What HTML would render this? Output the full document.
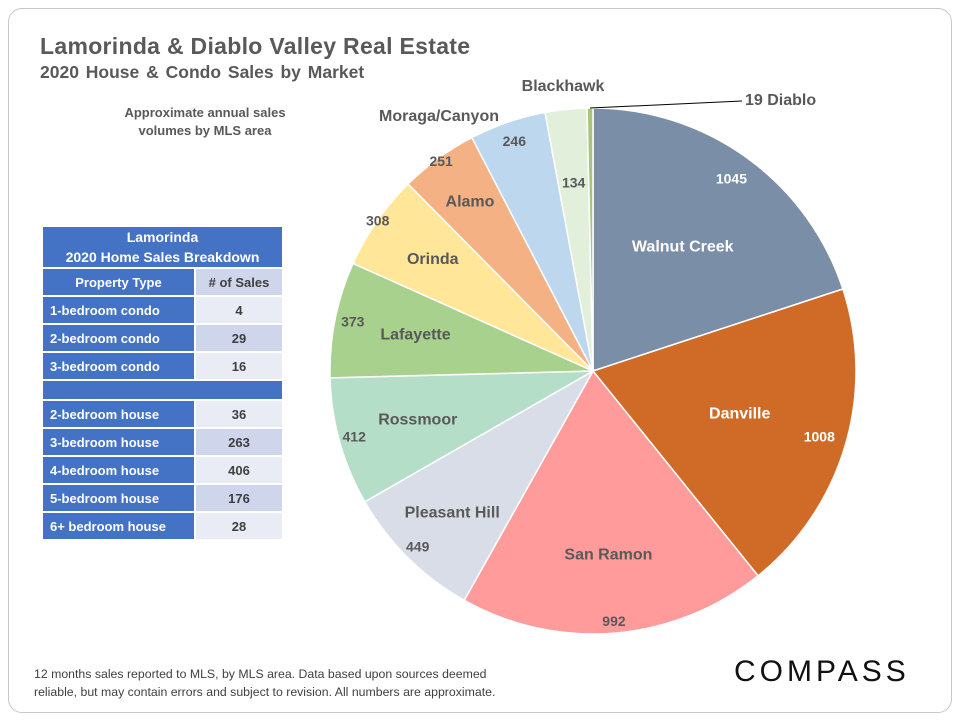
<!DOCTYPE html>
<html><head><meta charset="utf-8"><style>
body{margin:0;width:960px;height:720px;background:#fff;font-family:"Liberation Sans",sans-serif;overflow:hidden;position:relative}
.card{position:absolute;left:8px;top:8px;width:942px;height:703px;border:1px solid #c8c8c8;border-radius:14px}
.t{position:absolute;color:#595959;font-weight:bold}
table{position:absolute;left:41px;top:225px;border-collapse:separate;border-spacing:2px;font-size:13px;font-weight:bold}
td{padding:0;height:26px}
td.l{background:#4472c4;color:#fff;width:151px;padding-left:7px;box-sizing:border-box}
td.r{color:#404040;text-align:center;width:86px}
.a{background:#e9ebf5}.b{background:#cfd5ea}
</style></head><body>
<div class="card"></div>
<div class="t" style="left:40px;top:33px;font-size:23px;letter-spacing:0.3px">Lamorinda &amp; Diablo Valley Real Estate</div>
<div class="t" style="left:40px;top:62px;font-size:17.5px;word-spacing:2px">2020 House &amp; Condo Sales by Market</div>
<div class="t" style="left:110px;top:104px;width:190px;text-align:center;font-size:13px;line-height:18px">Approximate annual sales volumes by MLS area</div>
<table>
<tr><td colspan="2" style="background:#4472c4;color:#fff;text-align:center;height:40px;font-size:14px;line-height:20px">Lamorinda<br>2020 Home Sales Breakdown</td></tr>
<tr><td class="l" style="text-align:center;padding:0">Property Type</td><td class="r b"># of Sales</td></tr>
<tr><td class="l">1-bedroom condo</td><td class="r a">4</td></tr>
<tr><td class="l">2-bedroom condo</td><td class="r b">29</td></tr>
<tr><td class="l">3-bedroom condo</td><td class="r a">16</td></tr>
<tr><td colspan="2" style="background:#4472c4;height:18px"></td></tr>
<tr><td class="l">2-bedroom house</td><td class="r a">36</td></tr>
<tr><td class="l">3-bedroom house</td><td class="r b">263</td></tr>
<tr><td class="l">4-bedroom house</td><td class="r a">406</td></tr>
<tr><td class="l">5-bedroom house</td><td class="r b">176</td></tr>
<tr><td class="l">6+ bedroom house</td><td class="r a">28</td></tr>
</table>
<svg id="pie" width="960" height="720" style="position:absolute;left:0;top:0"></svg>
<div class="t" style="left:34px;top:665px;font-size:12.3px;font-weight:normal;color:#404040;line-height:18px">12 months sales reported to MLS, by MLS area. Data based upon sources deemed<br>reliable, but may contain errors and subject to revision. All numbers are approximate.</div>
<div style="position:absolute;left:734px;top:655px;font-size:30px;letter-spacing:4px;color:#111">COMPASS</div>
<script>
const markets=["Walnut Creek","Danville","San Ramon","Pleasant Hill","Rossmoor","Lafayette","Orinda","Alamo","Moraga/Canyon","Blackhawk","Diablo"];
const sales=[1045,1008,992,449,412,373,308,251,246,134,19];
const colors=["#7a8ea8","#d06b27","#ff9b9b","#d8dde7","#b5dec9","#a8d18d","#ffe699","#f4b183","#bdd7ee","#e2efda","#a9c47f"];
const nameR=[153,153,185,200,182,181,195,209,null,null,null];
const valR=[236,236,252,249,248,245,262,258,242,188,null];
const svg=document.getElementById('pie');
const NS="http://www.w3.org/2000/svg";
const cx=593,cy=371,R=263;
const total=sales.reduce((a,b)=>a+b,0);
function pt(a,r){return [cx+r*Math.sin(a),cy-r*Math.cos(a)];}
function txt(x,y,s,size,fill,anchor){const t=document.createElementNS(NS,'text');t.setAttribute('x',x);t.setAttribute('y',y);t.setAttribute('font-size',size);t.setAttribute('font-weight','bold');t.setAttribute('fill',fill);t.setAttribute('text-anchor',anchor||'middle');t.setAttribute('dominant-baseline','middle');t.setAttribute('font-family','Liberation Sans, sans-serif');t.textContent=s;svg.appendChild(t);return t;}
let cum=0;
sales.forEach((v,i)=>{
 const a0=cum/total*2*Math.PI,a1=(cum+v)/total*2*Math.PI,am=(a0+a1)/2;cum+=v;
 const p0=pt(a0,R),p1=pt(a1,R);
 const p=document.createElementNS(NS,'path');
 p.setAttribute('d',`M${cx},${cy}L${p0[0]},${p0[1]}A${R},${R} 0 ${a1-a0>Math.PI?1:0} 1 ${p1[0]},${p1[1]}Z`);
 p.setAttribute('fill',colors[i]);p.setAttribute('stroke','#fff');p.setAttribute('stroke-width','1.5');
 
 
 svg.appendChild(p);
 const dark=i<2?'#fff':'#595959';
 if(nameR[i]){const q=pt(am,nameR[i]);const t=txt(q[0],q[1],markets[i],16,dark);
  
  }
 if(valR[i]){const q=pt(am,valR[i]);const t=txt(q[0],q[1],String(v),14,dark);
  
  }
 if(i===8){const t=txt(439,117,markets[i],16,'#595959');
  
  }
 if(i===9){const t=txt(563,87,markets[i],16,'#595959');
  
  }
 if(i===10){const q=pt(am,R);const l=document.createElementNS(NS,'line');
  l.setAttribute('x1',q[0]);l.setAttribute('y1',q[1]);l.setAttribute('x2',742);l.setAttribute('y2',101);l.setAttribute('stroke','#000');l.setAttribute('stroke-width','1');
  
  
  svg.appendChild(l);
  const t=txt(745,101,v+' '+markets[i],16,'#595959','start');
  
  }
});
</script>
</body></html>
